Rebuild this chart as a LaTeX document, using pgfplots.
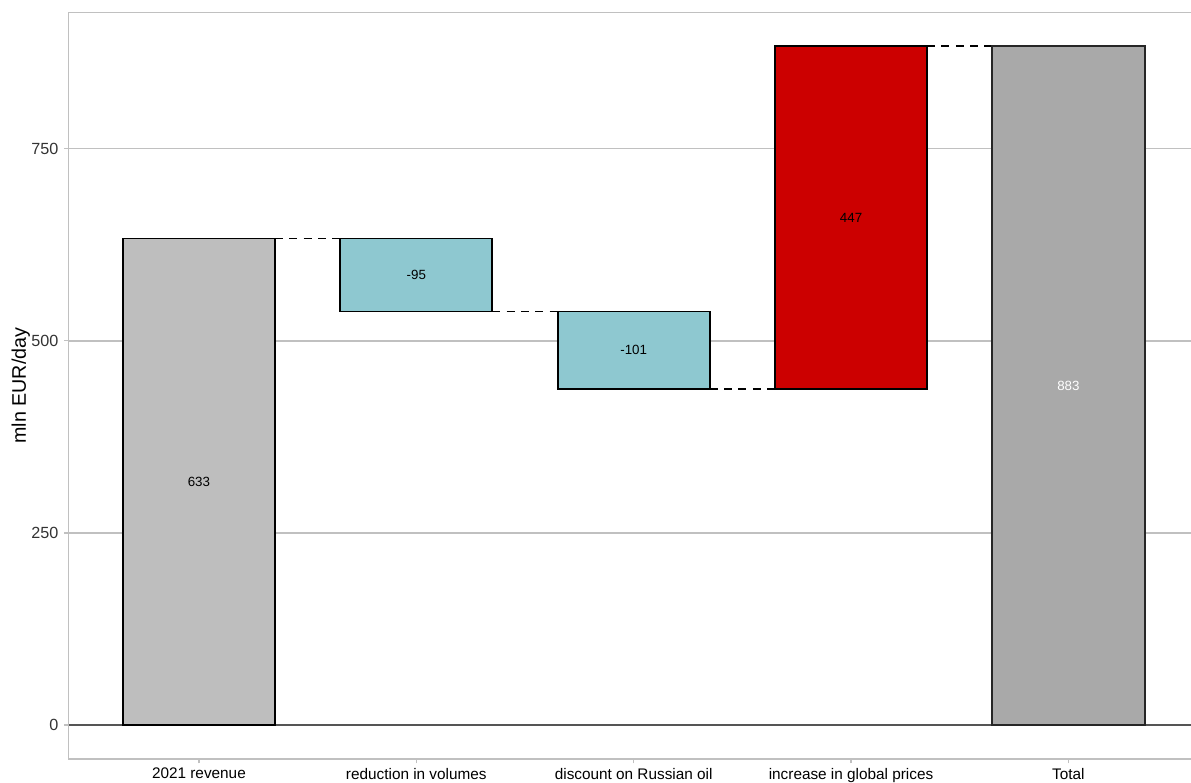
\documentclass[border=0pt]{standalone}
\usepackage{pgfplots}
\pgfplotsset{compat=1.18}
\usepackage{fontspec}
\setmainfont{Liberation Sans}
\definecolor{gridgrey}{HTML}{C0C0C0}
\definecolor{zerogrey}{HTML}{555555}
\definecolor{greyA}{HTML}{BEBEBE}
\definecolor{greyB}{HTML}{A9A9A9}
\definecolor{tealbar}{HTML}{8EC8D0}
\definecolor{redbar}{HTML}{CC0000}
\definecolor{ticktext}{HTML}{333333}
\pgfplotsset{
  base/.style={scale only axis, width=678.2pt, height=448pt,
    xmin=0.4, xmax=5.6, ymin=-44.15, ymax=927.15,
    at={(41.1pt,14.4pt)}, anchor=south west},
}
\begin{document}
\begin{tikzpicture}
% background axis: grid, ticks, labels, reference lines
\begin{axis}[base,
  axis line style={draw=gridgrey, line width=0.8pt},
  ytick={0,250,500,750},
  ymajorgrids, grid style={draw=gridgrey, line width=1pt},
  xtick={1,2,3,4,5},
  xticklabels={2021 revenue, reduction in volumes, discount on Russian oil, increase in global prices, Total},
  tick style={draw=gridgrey, line width=0.8pt},
  tick align=outside, major tick length=2.6pt, tick pos=left,
  /pgf/number format/assume math mode=true,
  yticklabel style={font=\fontsize{9.7}{11}\selectfont, text=ticktext},
  xticklabel style={font=\fontsize{9.2}{10}\selectfont, text=black, yshift=0.6pt},
  ylabel={mln EUR/day},
  ylabel style={at={(axis description cs:0,0.5)}, anchor=center, yshift=28.6pt, font=\fontsize{11.8}{13}\selectfont},
]
\addplot[zerogrey, line width=1.3pt] coordinates {(0.4,0) (5.6,0)};
\addplot[black, line width=1.1pt, dash pattern=on 4.8pt off 3.8pt] coordinates {(1.35,633) (1.65,633)};
\addplot[black, line width=1.1pt, dash pattern=on 4.8pt off 3.8pt] coordinates {(2.35,538) (2.65,538)};
\addplot[black, line width=1.1pt, dash pattern=on 4.8pt off 3.8pt] coordinates {(3.35,437) (3.65,437)};
\addplot[black, line width=1.1pt, dash pattern=on 4.8pt off 3.8pt] coordinates {(4.35,883) (4.65,883)};
\end{axis}
% bars
\begin{axis}[base, hide axis, ybar stacked, bar width=0.7]
\addplot[fill=none, draw=none] coordinates {(1,0) (2,538) (3,437) (4,437) (5,0)};
\addplot[fill=greyA, draw=black, line width=1.1pt] coordinates {(1,633) (2,0) (3,0) (4,0) (5,0)};
\addplot[fill=tealbar, draw=black, line width=1.1pt] coordinates {(1,0) (2,95) (3,101) (4,0) (5,0)};
\addplot[fill=redbar, draw=black, line width=1.1pt] coordinates {(1,0) (2,0) (3,0) (4,446) (5,0)};
\addplot[fill=greyB, draw=black!85, line width=1.2pt] coordinates {(1,0) (2,0) (3,0) (4,0) (5,883)};
\end{axis}
% value labels
\begin{axis}[base, hide axis]
\addplot[draw=none, nodes near coords, point meta=explicit symbolic,
  every node near coord/.style={anchor=center, font=\fontsize{8}{9}\selectfont, text=black}]
  table[meta=lab] {
x y lab
1 316.5 633
2 585.5 -95
3 487.5 -101
4 660 447
};
\addplot[draw=none, nodes near coords, point meta=explicit symbolic,
  every node near coord/.style={anchor=center, font=\fontsize{8}{9}\selectfont, text=white}]
  table[meta=lab] {
x y lab
5 441.5 883
};
\end{axis}
\pgfresetboundingbox
\path[use as bounding box] (0,0) rectangle (714.6pt,469.8pt);
\end{tikzpicture}
\end{document}
